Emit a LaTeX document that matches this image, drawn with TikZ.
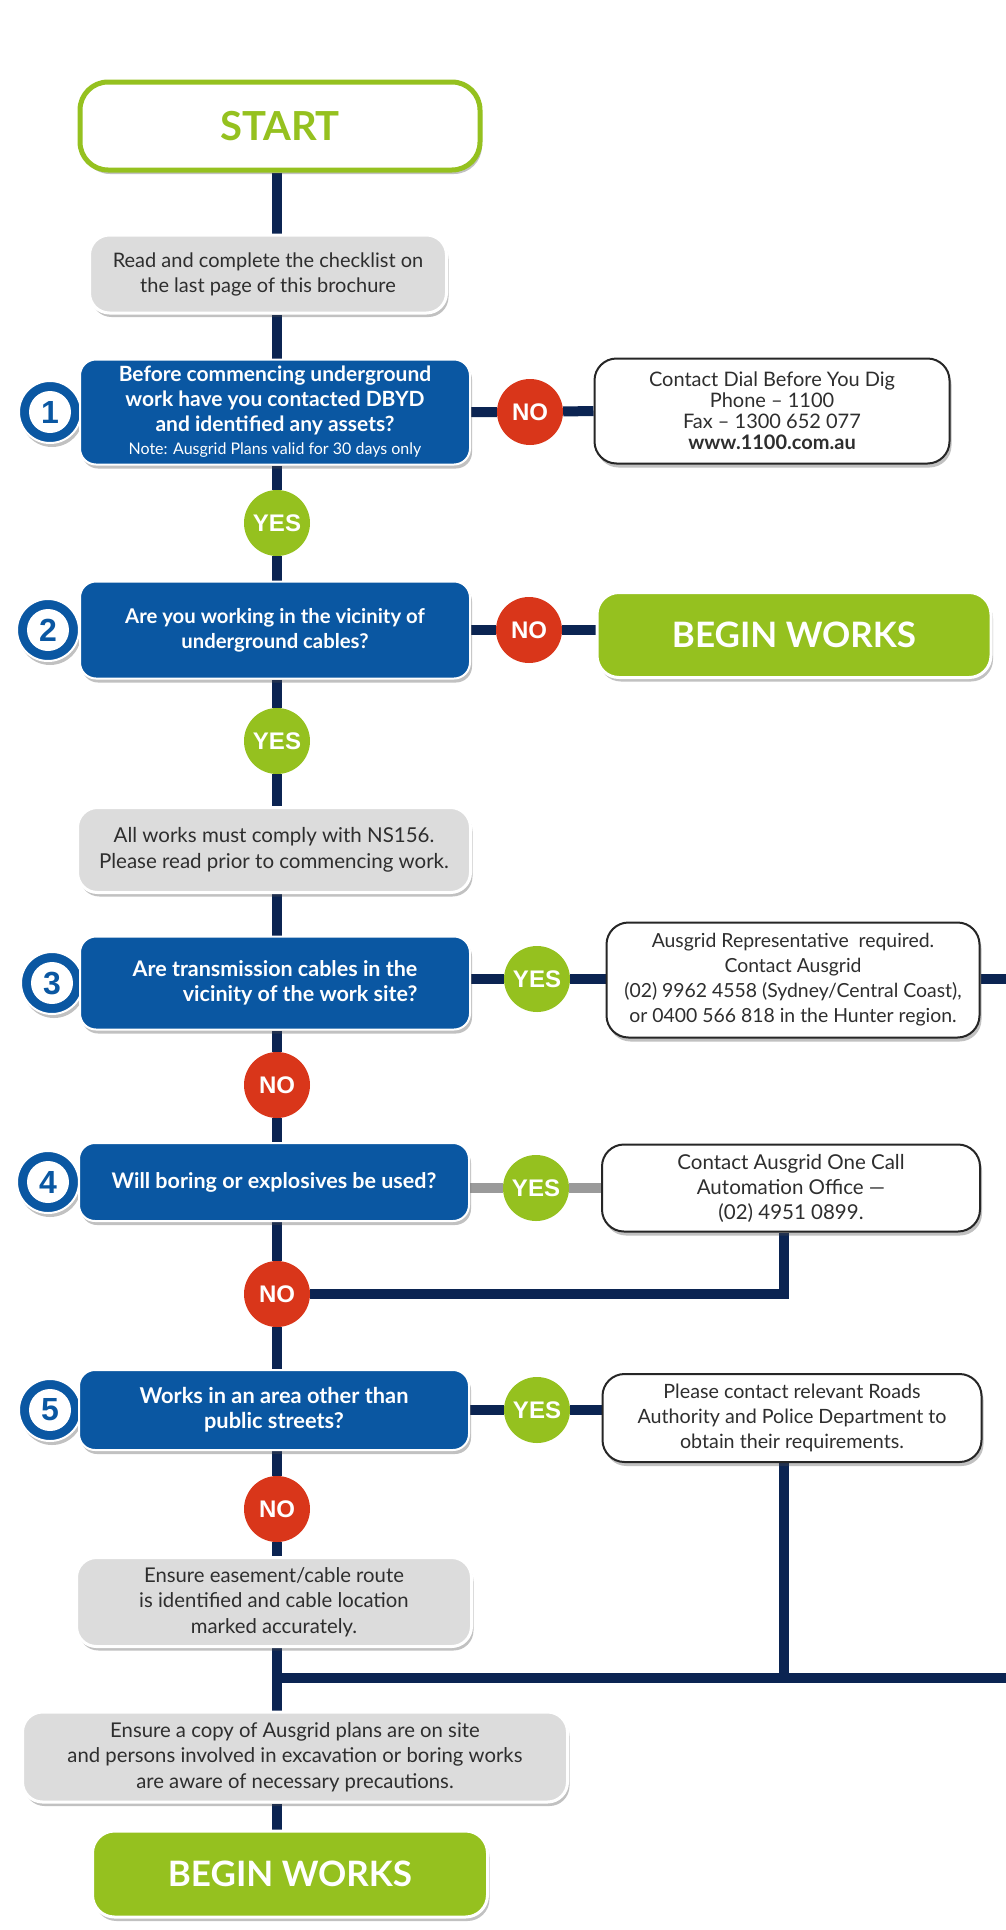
\documentclass[tikz,border=0pt]{standalone}
\usepackage{fontspec}
\setmainfont{Lato}
\newfontfamily\arialb{Liberation Sans}
\usetikzlibrary{shadows,backgrounds,calc}
\definecolor{navy}{HTML}{0B2452}
\definecolor{qblue}{HTML}{0A57A2}
\definecolor{lgreen}{HTML}{95C11F}
\definecolor{nored}{HTML}{D9361A}
\definecolor{boxgray}{HTML}{DCDCDC}
\definecolor{txtgray}{HTML}{2E2E2E}
\definecolor{linegray}{HTML}{9A9A9A}
\tikzset{
  conn/.style={draw=navy, line width=10pt},
  gconn/.style={draw=linegray, line width=10pt},
  sh/.style={drop shadow={shadow xshift=2pt,shadow yshift=-4pt,opacity=0.35,fill=black!70}},
  qbox/.style={rectangle, rounded corners=16pt, fill=qblue, draw=white, line width=2pt, sh,
    text=white, font=\bfseries\fontsize{21}{25}\selectfont, align=center, minimum width=390pt, inner sep=0pt},
  graybox/.style={rectangle, rounded corners=20pt, fill=boxgray, draw=white, line width=3pt, sh,
    text=txtgray, font=\fontsize{20.3}{25.5}\selectfont, align=center, inner sep=0pt},
  whitebox/.style={rectangle, rounded corners=22pt, fill=white, draw=black!85, line width=2pt, sh,
    text=txtgray, font=\fontsize{20}{21}\selectfont, align=center, inner sep=0pt},
  greenbox/.style={rectangle, rounded corners=22pt, fill=lgreen, draw=white, line width=3pt, sh,
    text=white, font=\bfseries\fontsize{35}{40}\selectfont, inner sep=0pt},
  startbox/.style={rectangle, rounded corners=28pt, fill=white, draw=lgreen, line width=5pt, sh,
    text=lgreen, font=\bfseries\fontsize{40}{42}\selectfont, inner sep=0pt,
    minimum width=400pt, minimum height=88pt},
  yesc/.style={circle, fill=lgreen, minimum size=66pt, inner sep=0pt, text=white,
    font=\arialb\bfseries\fontsize{24}{24}\selectfont},
  noc/.style={circle, fill=nored, minimum size=66pt, inner sep=0pt, text=white,
    font=\arialb\bfseries\fontsize{24}{24}\selectfont},
  numring/.style={circle, fill=qblue, draw=white, line width=2pt, minimum size=62pt, inner sep=0pt, sh},
  numin/.style={circle, fill=white, minimum size=42pt, inner sep=0pt, text=qblue,
    font=\arialb\bfseries\fontsize{32}{32}\selectfont}
}
\begin{document}
\begin{tikzpicture}[x=1pt,y=-1pt]
\useasboundingbox (0,0) rectangle (1006,1930);

% ---- trunk column
\node[startbox] (start) at (280,126) {START};
\node[graybox, minimum width=357pt, minimum height=78pt, font=\fontsize{20}{25}\selectfont] (check) at (268,274)
  {Read and complete the checklist on\\the last page of this brochure};

% Q1
\node[numring] (r1) at (50,412) {};
\node[qbox, minimum height=105pt] (q1) at (275,412)
  {Before commencing underground\\work have you contacted DBYD\\and identified any assets?\\[-2pt]{\mdseries\fontsize{16}{17}\selectfont Note: Ausgrid Plans valid for 30 days only}};
\node[numin] (n1) at (r1) {1};
\node[noc] (no1) at (530,412) {NO};
\node[whitebox, minimum width=355pt, minimum height=105pt] (dbyd) at (772,411)
  {Contact Dial Before You Dig\\Phone -- 1100\\Fax -- 1300 652 077\\\textbf{www.1100.com.au}};
\node[yesc] (yes1) at (277,523) {YES};

% Q2
\node[numring] (r2) at (48,630) {};
\node[qbox, minimum height=97pt, font=\bfseries\fontsize{20.3}{25}\selectfont] (q2) at (275,630)
  {Are you working in the vicinity of\\underground cables?};
\node[numin] (n2) at (r2) {2};
\node[noc] (no2) at (529,630) {NO};
\node[greenbox, minimum width=394pt, minimum height=85pt] (bw1) at (794,635) {BEGIN WORKS};
\node[yesc] (yes2) at (277,741) {YES};

\node[graybox, minimum width=393pt, minimum height=85pt, font=\fontsize{20.5}{26}\selectfont] (ns) at (274,850)
  {All works must comply with NS156.\\Please read prior to commencing work.};

% Q3
\node[numring] (r3) at (52,983) {};
\node[qbox, minimum height=93pt, align=right, font=\bfseries\fontsize{21.5}{25}\selectfont] (q3) at (275,983)
  {Are transmission cables in the\\vicinity of the work site?};
\node[numin] (n3) at (r3) {3};
\node[yesc] (yes3) at (537,979) {YES};
\node[whitebox, minimum width=373pt, minimum height=115pt, font=\fontsize{19.4}{25}\selectfont] (rep) at (793,980)
  {Ausgrid Representative\ \ required.\\Contact Ausgrid\\(02) 9962 4558 (Sydney/Central Coast),\\or 0400 566 818 in the Hunter region.};
\node[noc] (no3) at (277,1085) {NO};

% Q4
\node[numring] (r4) at (48,1182) {};
\node[qbox, minimum height=78pt, font=\bfseries\fontsize{21.5}{25}\selectfont] (q4) at (274,1182)
  {Will boring or explosives be used?};
\node[numin] (n4) at (r4) {4};
\node[yesc] (yes4) at (536,1188) {YES};
\node[whitebox, minimum width=378pt, minimum height=87pt, font=\fontsize{20.5}{25}\selectfont] (onecall) at (791,1188)
  {Contact Ausgrid One Call\\Automation Office ---\\(02) 4951 0899.};
\node[noc] (no4) at (277,1294) {NO};

% Q5
\node[numring] (r5) at (50,1410) {};
\node[qbox, minimum height=80pt, font=\bfseries\fontsize{21.8}{25}\selectfont] (q5) at (274,1410)
  {Works in an area other than\\public streets?};
\node[numin] (n5) at (r5) {5};
\node[yesc] (yes5) at (537,1410) {YES};
\node[whitebox, minimum width=379pt, minimum height=88pt, font=\fontsize{19.7}{25}\selectfont] (roads) at (792,1418)
  {Please contact relevant Roads\\Authority and Police Department to\\obtain their requirements.};
\node[noc] (no5) at (277,1509) {NO};

\node[graybox, minimum width=395pt, minimum height=89pt] (ease) at (274,1602)
  {Ensure easement/cable route\\is identified and cable location\\marked accurately.};
\node[graybox, minimum width=545pt, minimum height=90pt] (final) at (295,1757)
  {Ensure a copy of Ausgrid plans are on site\\and persons involved in excavation or boring works\\are aware of necessary precautions.};
\node[greenbox, minimum width=395pt, minimum height=86pt] (bw2) at (290,1874) {BEGIN WORKS};

% ---- helper coordinates
\coordinate (m1) at (277,1678);
\coordinate (m2) at (784,1678);
\coordinate (m3) at (1006,1678);
\coordinate (d4) at (784,1294);
\coordinate (e3) at (1006,979);

% ---- connectors
\begin{pgfonlayer}{background}
\draw[conn] (start.south -| yes1) -- (check.north -| yes1);
\draw[conn] (check.south -| yes1) -- (q1.north -| yes1);
\draw[conn] (q1.south -| yes1) -- (yes1) -- (q2.north -| yes1);
\draw[conn] (q2.south -| yes2) -- (yes2) -- (ns.north -| yes2);
\draw[conn] (ns.south -| no3) -- (q3.north -| no3);
\draw[conn] (q3.south -| no3) -- (no3) -- (q4.north -| no3);
\draw[conn] (q4.south -| no4) -- (no4) -- (q5.north -| no4);
\draw[conn] (q5.south -| no5) -- (no5) -- (ease.north -| no5);
\draw[conn] (ease.south -| m1) -- (m1) -- (final.north -| m1);
\draw[conn] (final.south -| m1) -- (bw2.north -| m1);
% right branches
\draw[conn] (q1.east) -- (no1) -- (dbyd.west);
\draw[conn] (q2.east) -- (no2) -- (no2 -| bw1.west);
\draw[conn] (q3.east |- yes3) -- (yes3) -- (yes3 -| rep.west);
\draw[conn] (rep.east |- e3) -- (e3);
\draw[gconn] (q4.east |- yes4) -- (yes4) -- (onecall.west);
\draw[conn] (d4 |- onecall.south) -- (d4) -- (no4);
\draw[conn] (q5.east) -- (yes5) -- (yes5 -| roads.west);
\draw[conn] (m2 |- roads.south) -- (m2);
\draw[conn] (m1) -- (m3);
\end{pgfonlayer}
\end{tikzpicture}
\end{document}
